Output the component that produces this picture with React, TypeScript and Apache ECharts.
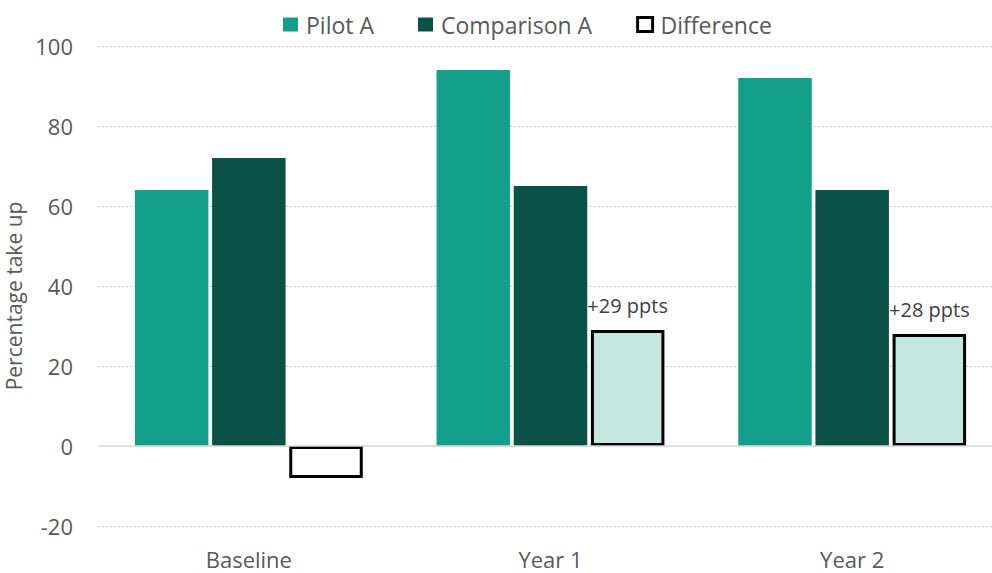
import React, { useEffect, useRef } from "react";
import * as echarts from "echarts";

const categories = ["Baseline", "Year 1", "Year 2"];
const pilotA = [64, 94, 92];
const comparisonA = [72, 65, 64];
const difference = [-8, 29, 28];
const yTicks = { min: -20, max: 100, interval: 20 };

const FONT = "'Open Sans', 'Noto Sans', sans-serif";
const TEXT = "#595959";

export default function App() {
  const ref = useRef<HTMLDivElement>(null);
  useEffect(() => {
    if (!ref.current) return;
    const chart = echarts.init(ref.current, null, { renderer: "svg" });
    chart.setOption({
      animation: false,
      textStyle: { fontFamily: FONT },
      legend: {
        left: 278,
        top: 8,
        itemWidth: 15,
        itemHeight: 14,
        itemGap: 44,
        textStyle: { fontSize: 23, color: TEXT, fontFamily: FONT, padding: [0, 0, 0, 3] },
        data: [
          { name: "Pilot A", icon: "rect" },
          { name: "Comparison A", icon: "rect" },
          {
            name: "Difference",
            icon: "rect",
            itemStyle: { color: "#ffffff", borderColor: "#000000", borderWidth: 3 },
          },
        ],
      },
      grid: { left: 98, right: 0, top: 46, bottom: 47, containLabel: false, outerBoundsMode: "none" },
      xAxis: {
        type: "category",
        data: categories,
        axisLine: { show: false, onZero: false },
        axisTick: { show: false },
        axisLabel: { fontSize: 22, lineHeight: 24, color: TEXT, margin: 21, fontFamily: FONT },
      },
      yAxis: {
        type: "value",
        min: yTicks.min,
        max: yTicks.max,
        interval: yTicks.interval,
        name: "Percentage take up",
        nameLocation: "middle",
        nameGap: 64,
        nameTextStyle: { fontSize: 21, color: TEXT, fontFamily: FONT, padding: [0, 20, 0, 0] },
        axisLine: { show: false },
        axisTick: { show: false },
        axisLabel: { fontSize: 22, color: TEXT, margin: 25, fontFamily: FONT },
        splitLine: { lineStyle: { color: "#D0D0D0", type: [2, 2], width: 1 } },
      },
      series: [
        {
          name: "Pilot A",
          type: "bar",
          data: pilotA,
          barWidth: 73.5,
          barGap: "5%",
          itemStyle: { color: "#12A08A" },
          markLine: {
            silent: true,
            symbol: "none",
            label: { show: false },
            lineStyle: { color: "#D9D9D9", type: "solid", width: 1.5 },
            data: [{ yAxis: 0 }],
          },
        },
        {
          name: "Comparison A",
          type: "bar",
          data: comparisonA,
          barWidth: 73.5,
          barGap: "5%",
          itemStyle: { color: "#0A5247" },
        },
        {
          name: "Difference",
          type: "bar",
          barWidth: 73.5,
          barGap: "5%",
          z: 3,
          data: difference.map((v) =>
            v < 0
              ? { value: v, itemStyle: { color: "#ffffff" }, label: { show: false } }
              : v
          ),
          itemStyle: { color: "#C4E8E0", borderColor: "#000000", borderWidth: 3 },
          label: {
            show: true,
            position: "top",
            distance: 15,
            fontSize: 20,
            color: "#404040",
            fontFamily: FONT,
            formatter: (p: any) => (p.value > 0 ? `+${p.value} ppts` : ""),
          },
        },
      ],
    });
    return () => chart.dispose();
  }, []);
  return (
    <div
      style={{
        position: "fixed",
        left: 0,
        top: 0,
        width: 992,
        height: 573,
        overflow: "hidden",
        background: "#ffffff",
      }}
    >
      <div ref={ref} style={{ width: 1003, height: 573 }} />
    </div>
  );
}
